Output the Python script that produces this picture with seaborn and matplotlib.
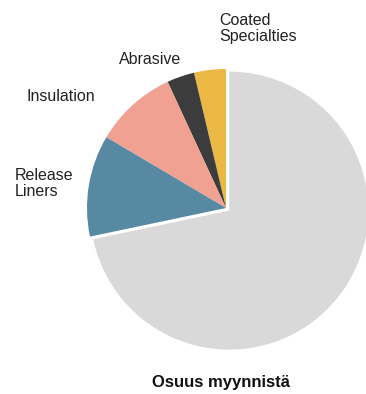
import matplotlib
matplotlib.use("Agg")
import matplotlib.pyplot as plt
import seaborn as sns

categories = ["Coated\nSpecialties", "Abrasive", "Insulation", "Release\nLiners", ""]
shares = [3.7, 3.2, 9.6, 11.8, 71.7]
colors = ["#EBB843", "#3C3C3C", "#F0A191", "#5889A3", "#D9D9D9"]
title = "Osuus myynnistä"

sns.set_theme(style="white")
plt.rcParams["font.family"] = ["Liberation Sans", "DejaVu Sans"]

W, H = 366, 394
fig = plt.figure(figsize=(W / 100, H / 100), dpi=100)
R = 139
cx, cy = 226, H - 208
half = 1.2 * R
ax = fig.add_axes([(cx - half) / W, (cy - half) / H, 2 * half / W, 2 * half / H])
ax.pie(shares, colors=sns.color_palette(colors), startangle=90, counterclock=True,
       explode=[0, 0, 0, 0, 0.03], radius=1.0,
       wedgeprops=dict(linewidth=0))
ax.set_xlim(-1.2, 1.2)
ax.set_ylim(-1.2, 1.2)
ax.set_aspect("equal")
ax.axis("off")

# x of left edge, y of last-line baseline (pixels from top)
label_pos = [(219.5, 41.5), (119, 64), (26, 101), (14.5, 196.5)]
for text, (x, y) in zip(categories[:4], label_pos):
    fig.text(x / W, 1 - y / H, text, ha="left", va="baseline", fontsize=11.5,
             color="#222222", linespacing=1.13)

fig.text(221 / W, 1 - 383 / H, title, ha="center", va="center",
         fontsize=12, fontweight="bold", color="#111111")

fig.savefig("out.png", dpi=100)
